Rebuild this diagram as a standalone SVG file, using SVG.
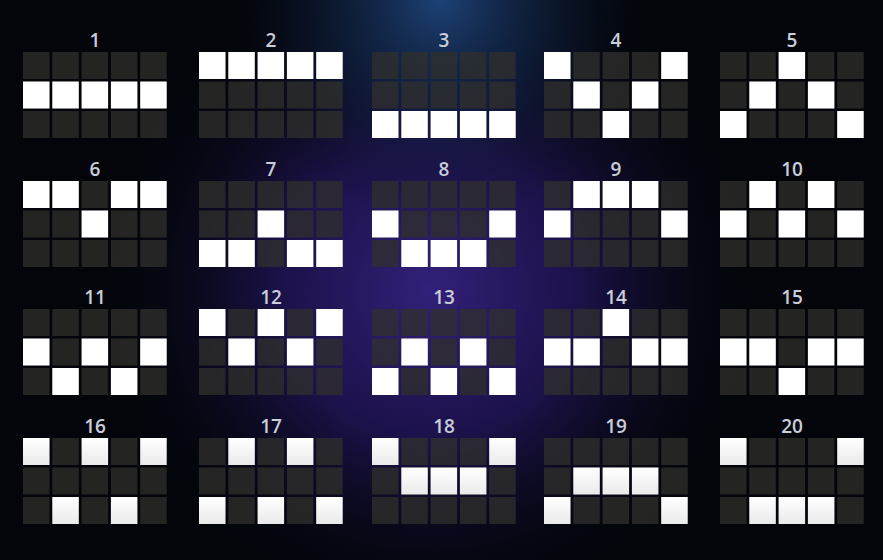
<svg xmlns="http://www.w3.org/2000/svg" xmlns:xlink="http://www.w3.org/1999/xlink" width="883" height="560" viewBox="0 0 883 560">
<style>
.lbl{font-family:"Open Sans","Liberation Sans",sans-serif;font-size:19px;font-weight:600;fill:#c9ceda;text-anchor:middle}
.w{fill:#ffffff}
.g{fill:url(#litGrad)}
.d{fill:#30302c;fill-opacity:0.75}
</style>
<defs>
<radialGradient id="purple" cx="430" cy="290" r="330" gradientUnits="userSpaceOnUse">
<stop offset="0" stop-color="#33207a"/>
<stop offset="0.45" stop-color="#22155a" stop-opacity="0.8"/>
<stop offset="1" stop-color="#05070e" stop-opacity="0"/>
</radialGradient>
<radialGradient id="blue" cx="440" cy="0" r="220" gradientUnits="userSpaceOnUse">
<stop offset="0" stop-color="#1d4276"/>
<stop offset="0.6" stop-color="#0f2240" stop-opacity="0.45"/>
<stop offset="1" stop-color="#05070e" stop-opacity="0"/>
</radialGradient>
<linearGradient id="litGrad" x1="0" y1="0" x2="0" y2="86" gradientUnits="userSpaceOnUse">
<stop offset="0" stop-color="#ffffff"/>
<stop offset="1" stop-color="#bcbcbc"/>
</linearGradient>
<rect id="L" width="26.5" height="27"/>
<g id="grid" class="d">
<use href="#L" x="0" y="0"/><use href="#L" x="29.3" y="0"/><use href="#L" x="58.6" y="0"/><use href="#L" x="87.9" y="0"/><use href="#L" x="117.2" y="0"/>
<use href="#L" x="0" y="29.5"/><use href="#L" x="29.3" y="29.5"/><use href="#L" x="58.6" y="29.5"/><use href="#L" x="87.9" y="29.5"/><use href="#L" x="117.2" y="29.5"/>
<use href="#L" x="0" y="59"/><use href="#L" x="29.3" y="59"/><use href="#L" x="58.6" y="59"/><use href="#L" x="87.9" y="59"/><use href="#L" x="117.2" y="59"/>
</g>
</defs>
<rect width="883" height="560" fill="#03050b"/>
<rect width="883" height="560" fill="url(#purple)"/>
<rect width="883" height="560" fill="url(#blue)"/>

<g id="labels">
<text class="lbl" x="95" y="47">1</text>
<text class="lbl" x="271" y="47">2</text>
<text class="lbl" x="444" y="47">3</text>
<text class="lbl" x="616" y="47">4</text>
<text class="lbl" x="792" y="47">5</text>
<text class="lbl" x="95" y="176">6</text>
<text class="lbl" x="271" y="176">7</text>
<text class="lbl" x="444" y="176">8</text>
<text class="lbl" x="616" y="176">9</text>
<text class="lbl" x="792" y="176">10</text>
<text class="lbl" x="95" y="304">11</text>
<text class="lbl" x="271" y="304">12</text>
<text class="lbl" x="444" y="304">13</text>
<text class="lbl" x="616" y="304">14</text>
<text class="lbl" x="792" y="304">15</text>
<text class="lbl" x="95" y="433">16</text>
<text class="lbl" x="271" y="433">17</text>
<text class="lbl" x="444" y="433">18</text>
<text class="lbl" x="616" y="433">19</text>
<text class="lbl" x="792" y="433">20</text>
</g>

<g id="line1" transform="translate(23,52)"><use href="#grid"/><g class="w"><use href="#L" x="0" y="29.5"/><use href="#L" x="29.3" y="29.5"/><use href="#L" x="58.6" y="29.5"/><use href="#L" x="87.9" y="29.5"/><use href="#L" x="117.2" y="29.5"/></g></g>
<g id="line2" transform="translate(199,52)"><use href="#grid"/><g class="w"><use href="#L" x="0" y="0"/><use href="#L" x="29.3" y="0"/><use href="#L" x="58.6" y="0"/><use href="#L" x="87.9" y="0"/><use href="#L" x="117.2" y="0"/></g></g>
<g id="line3" transform="translate(372,52)"><use href="#grid"/><g class="w"><use href="#L" x="0" y="59"/><use href="#L" x="29.3" y="59"/><use href="#L" x="58.6" y="59"/><use href="#L" x="87.9" y="59"/><use href="#L" x="117.2" y="59"/></g></g>
<g id="line4" transform="translate(544,52)"><use href="#grid"/><g class="w"><use href="#L" x="0" y="0"/><use href="#L" x="29.3" y="29.5"/><use href="#L" x="58.6" y="59"/><use href="#L" x="87.9" y="29.5"/><use href="#L" x="117.2" y="0"/></g></g>
<g id="line5" transform="translate(720,52)"><use href="#grid"/><g class="w"><use href="#L" x="0" y="59"/><use href="#L" x="29.3" y="29.5"/><use href="#L" x="58.6" y="0"/><use href="#L" x="87.9" y="29.5"/><use href="#L" x="117.2" y="59"/></g></g>

<g id="line6" transform="translate(23,181)"><use href="#grid"/><g class="w"><use href="#L" x="0" y="0"/><use href="#L" x="29.3" y="0"/><use href="#L" x="58.6" y="29.5"/><use href="#L" x="87.9" y="0"/><use href="#L" x="117.2" y="0"/></g></g>
<g id="line7" transform="translate(199,181)"><use href="#grid"/><g class="w"><use href="#L" x="0" y="59"/><use href="#L" x="29.3" y="59"/><use href="#L" x="58.6" y="29.5"/><use href="#L" x="87.9" y="59"/><use href="#L" x="117.2" y="59"/></g></g>
<g id="line8" transform="translate(372,181)"><use href="#grid"/><g class="w"><use href="#L" x="0" y="29.5"/><use href="#L" x="29.3" y="59"/><use href="#L" x="58.6" y="59"/><use href="#L" x="87.9" y="59"/><use href="#L" x="117.2" y="29.5"/></g></g>
<g id="line9" transform="translate(544,181)"><use href="#grid"/><g class="w"><use href="#L" x="0" y="29.5"/><use href="#L" x="29.3" y="0"/><use href="#L" x="58.6" y="0"/><use href="#L" x="87.9" y="0"/><use href="#L" x="117.2" y="29.5"/></g></g>
<g id="line10" transform="translate(720,181)"><use href="#grid"/><g class="w"><use href="#L" x="0" y="29.5"/><use href="#L" x="29.3" y="0"/><use href="#L" x="58.6" y="29.5"/><use href="#L" x="87.9" y="0"/><use href="#L" x="117.2" y="29.5"/></g></g>

<g id="line11" transform="translate(23,309)"><use href="#grid"/><g class="w"><use href="#L" x="0" y="29.5"/><use href="#L" x="29.3" y="59"/><use href="#L" x="58.6" y="29.5"/><use href="#L" x="87.9" y="59"/><use href="#L" x="117.2" y="29.5"/></g></g>
<g id="line12" transform="translate(199,309)"><use href="#grid"/><g class="w"><use href="#L" x="0" y="0"/><use href="#L" x="29.3" y="29.5"/><use href="#L" x="58.6" y="0"/><use href="#L" x="87.9" y="29.5"/><use href="#L" x="117.2" y="0"/></g></g>
<g id="line13" transform="translate(372,309)"><use href="#grid"/><g class="w"><use href="#L" x="0" y="59"/><use href="#L" x="29.3" y="29.5"/><use href="#L" x="58.6" y="59"/><use href="#L" x="87.9" y="29.5"/><use href="#L" x="117.2" y="59"/></g></g>
<g id="line14" transform="translate(544,309)"><use href="#grid"/><g class="w"><use href="#L" x="0" y="29.5"/><use href="#L" x="29.3" y="29.5"/><use href="#L" x="58.6" y="0"/><use href="#L" x="87.9" y="29.5"/><use href="#L" x="117.2" y="29.5"/></g></g>
<g id="line15" transform="translate(720,309)"><use href="#grid"/><g class="w"><use href="#L" x="0" y="29.5"/><use href="#L" x="29.3" y="29.5"/><use href="#L" x="58.6" y="59"/><use href="#L" x="87.9" y="29.5"/><use href="#L" x="117.2" y="29.5"/></g></g>

<g id="line16" transform="translate(23,438)"><use href="#grid"/><g class="g"><use href="#L" x="0" y="0"/><use href="#L" x="29.3" y="59"/><use href="#L" x="58.6" y="0"/><use href="#L" x="87.9" y="59"/><use href="#L" x="117.2" y="0"/></g></g>
<g id="line17" transform="translate(199,438)"><use href="#grid"/><g class="g"><use href="#L" x="0" y="59"/><use href="#L" x="29.3" y="0"/><use href="#L" x="58.6" y="59"/><use href="#L" x="87.9" y="0"/><use href="#L" x="117.2" y="59"/></g></g>
<g id="line18" transform="translate(372,438)"><use href="#grid"/><g class="g"><use href="#L" x="0" y="0"/><use href="#L" x="29.3" y="29.5"/><use href="#L" x="58.6" y="29.5"/><use href="#L" x="87.9" y="29.5"/><use href="#L" x="117.2" y="0"/></g></g>
<g id="line19" transform="translate(544,438)"><use href="#grid"/><g class="g"><use href="#L" x="0" y="59"/><use href="#L" x="29.3" y="29.5"/><use href="#L" x="58.6" y="29.5"/><use href="#L" x="87.9" y="29.5"/><use href="#L" x="117.2" y="59"/></g></g>
<g id="line20" transform="translate(720,438)"><use href="#grid"/><g class="g"><use href="#L" x="0" y="0"/><use href="#L" x="29.3" y="59"/><use href="#L" x="58.6" y="59"/><use href="#L" x="87.9" y="59"/><use href="#L" x="117.2" y="0"/></g></g>
</svg>
